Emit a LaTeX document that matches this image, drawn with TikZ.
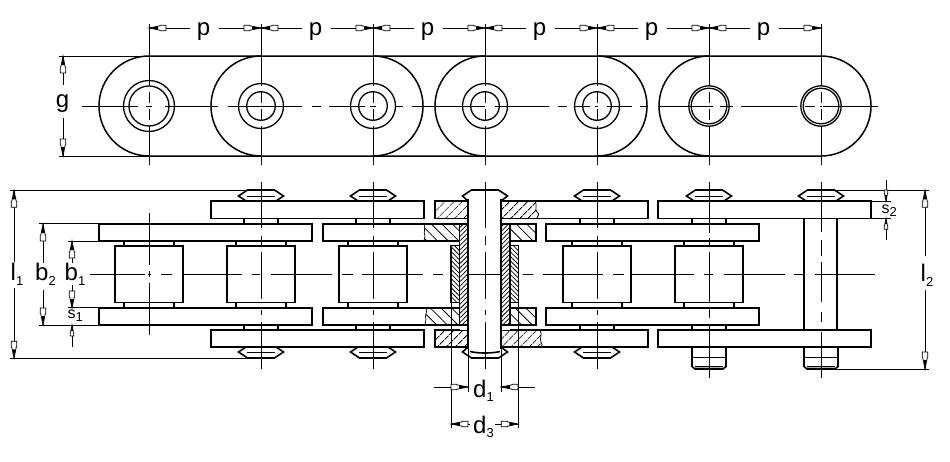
\documentclass[tikz,border=0pt]{standalone}
\usepackage{fontspec}
\setmainfont{Liberation Sans}
\usetikzlibrary{patterns.meta}
\newcommand{\subt}[1]{\raisebox{-4.5pt}{\fontsize{13}{13}\selectfont #1}}
\newcommand{\subs}[1]{\raisebox{-3.5pt}{\fontsize{13}{13}\selectfont #1}}
\tikzset{
  x=1pt,y=-1pt,
  thickln/.style={line width=1.6pt,line join=miter},
  thinln/.style={line width=0.85pt},
  boxp/.style={thickln,fill=white},
  lbl/.style={font=\fontsize{24}{24}\selectfont,inner sep=0pt,anchor=base west},
  lblc/.style={font=\fontsize{24}{24}\selectfont,inner sep=0pt},
  lblsm/.style={font=\fontsize{16}{16}\selectfont,inner sep=0pt,anchor=base west},
  tipshape/.pic={\draw[line width=0.75pt,fill=white] (0,0)--(11,-2.2)--(11,-2.8)--(17,-2.8)--(17,2.8)--(11,2.8)--(11,2.2)--cycle;
                 \fill (0,0)--(9,-1.6)--(9,1.6)--cycle;},
  hatchA/.style={pattern={Lines[angle=45,distance=6.5pt,line width=.8pt]}},
  hatchB/.style={pattern={Lines[angle=-45,distance=7.5pt,line width=.8pt]}},
  hatchC/.style={pattern={Lines[angle=45,distance=3.2pt,line width=.75pt]}},
  hatchD/.style={pattern={Lines[angle=-45,distance=3.2pt,line width=.75pt]}},
}
\newcommand{\rivethead}[1]{%
  \draw[boxp] (#1-13.5,190)--(#1+13.5,190)--(#1+22.5,196)--(#1+15,201)--(#1-15,201)--(#1-22.5,196)--cycle;
  \draw[line width=1pt] (#1-14,196)--(#1+14,196);
  \draw[boxp] (#1-13.5,358)--(#1+13.5,358)--(#1+22.5,352)--(#1+15,347)--(#1-15,347)--(#1-22.5,352)--cycle;
  \draw[line width=1pt] (#1-14,352)--(#1+14,352);}
\begin{document}
\begin{tikzpicture}
\useasboundingbox (0,0) rectangle (950,461);
\fill[white] (0,0) rectangle (950,461);
% ===== top view =====
\draw[line width=1.5pt]
  (149,156) arc[start angle=90,end angle=270,radius=50]
  (149,56) -- (821,56) arc[start angle=-90,end angle=90,radius=50] -- (149,156);
\foreach \cx in {261,485,709}
  \draw[line width=1.5pt] (\cx,56) arc[start angle=270,end angle=90,radius=50];
\foreach \cx in {373,597}
  \draw[line width=1.5pt] (\cx,56) arc[start angle=-90,end angle=90,radius=50];
\draw[line width=1.3pt] (149,106) circle[radius=25.5] (149,106) circle[radius=20];
\foreach \cx in {261,373,485,597}
  \draw[line width=1.3pt] (\cx,106) circle[radius=22.5] (\cx,106) circle[radius=14.3];
\foreach \cx in {709,821}
  \draw[line width=1.3pt] (\cx,106) circle[radius=20.2] (\cx,106) circle[radius=17.8];
% top view centre lines
\foreach \ax/\bx in {82/138,146/152,165/218,228/302,312/321,329/365,370/376,396/403,412/485,495/549,558/567,575/590,595/598,607/632,640/648,658/713,720/733,741/797,805/815,820/822,823/878}
  \draw[thinln] (\ax,106)--(\bx,106);
\foreach \cx in {149,261,373,485,597,709,821}{
  \draw[thinln] (\cx,24)--(\cx,86) (\cx,92)--(\cx,103) (\cx,109)--(\cx,120) (\cx,126)--(\cx,165);
}
% p dimensions
\foreach \cx/\dx in {149/261,261/373,373/485,485/597,597/709,709/821}{
  \draw[thinln] (\cx,28)--(\cx+41,28) (\cx+70,28)--(\dx,28);
  \pic at (\cx,28) {tipshape};
  \pic[rotate=180] at (\dx,28) {tipshape};
  \node[lblc] at (\cx+54.5,32) {p};
}
% g
\draw[thinln] (59,56)--(149,56);
\draw[thinln] (59,156.5)--(149,156.5);
\draw[thinln] (63,56)--(63,85) (63,118)--(63,156);
\pic[rotate=-90] at (63,56) {tipshape};
\pic[rotate=90] at (63,156) {tipshape};
\node[lblc] at (62.5,104) {g};
% ===== side view =====
% extension lines
\draw[thinln] (10,190.3)--(248,190.3);
\draw[thinln] (10,358.3)--(248,358.3);
\draw[thinln] (39,223.7)--(99,223.7) (39,325)--(99,325);
\draw[thinln] (68,241)--(99,241) (68,307.7)--(99,307.7);
% spacer bushes
\foreach \cx in {149,261,373,597,709}{
  \draw[thickln,line width=1.2pt] (\cx-25,241)--(\cx-25,245.7) (\cx+25,241)--(\cx+25,245.7)
     (\cx-25,302.3)--(\cx-25,307.7) (\cx+25,302.3)--(\cx+25,307.7);
}
\foreach \cx in {261,373,597,709}{
  \draw[thickln,line width=1.2pt] (\cx-17,218)--(\cx-17,224) (\cx+17,218)--(\cx+17,224)
     (\cx-17,325)--(\cx-17,330) (\cx+17,325)--(\cx+17,330);
}
% rollers
\foreach \cx in {149,261,373,597,709}
  \draw[boxp] (\cx-34,245.7) rectangle (\cx+34,302.3);
% inner plates
\foreach \ax in {99,323,546}{
  \draw[boxp] (\ax,223.7) rectangle (\ax+213,241);
  \draw[boxp] (\ax,307.7) rectangle (\ax+213,325);
}
% outer plates
\foreach \ax in {211,435,658}{
  \draw[boxp] (\ax,201) rectangle (\ax+213,218.3);
  \draw[boxp] (\ax,330) rectangle (\ax+213,347);
}
% rivet heads
\foreach \cx in {261,373,597}{\rivethead{\cx}}
% end pin at 709 and 821
\foreach \cx in {709,821}{
  \draw[boxp] (\cx-22.5,196)--(\cx-13.5,190)--(\cx+13.5,190)--(\cx+22.5,196)--(\cx+15,201)--(\cx-15,201)--cycle;
  \draw[line width=1pt] (\cx-14,196)--(\cx+14,196);
  \fill[gray!60] (\cx-14,366.5) rectangle (\cx+14,369);
  \draw[thickln] (\cx-17,347.5)--(\cx-17,366.5)--(\cx-14,369)--(\cx+14,369)--(\cx+17,366.5)--(\cx+17,347.5);
  \draw[thinln] (\cx-17,357.7)--(\cx+17,357.7) (\cx-14,366.5)--(\cx+14,366.5);
}
\draw[thickln] (804,218.3)--(804,330) (837,218.3)--(837,330);
% ===== section at 485 =====
\path[hatchA] (435,201)--(468,201)--(468,218)--(435,218)--cycle;
\path[hatchA] (501,201)--(535,201) .. controls (538,206) and (534,209) .. (537,212) .. controls (540,214) and (538,216) .. (537,218) -- (501,218)--cycle;
\draw[line width=.7pt] (535,201) .. controls (538,206) and (534,209) .. (537,212) .. controls (540,214) and (538,216) .. (537,218);
\path[hatchA] (435,330)--(468,330)--(468,347)--(435,347)--cycle;
\path[hatchA] (501,330)--(540,330) .. controls (543,335) and (539,339) .. (541,342) .. controls (543,344) and (542,346) .. (541,347)--(501,347)--cycle;
\draw[line width=.7pt] (540,330) .. controls (543,335) and (539,339) .. (541,342) .. controls (543,344) and (542,346) .. (541,347);
\draw[thickln] (435,201) rectangle (648,218.3);
\draw[thickln] (435,330) rectangle (648,347);
% inner plate sections
\path[hatchB] (424,224) .. controls (426,228) and (423,232) .. (425,236) -- (424,241)--(459,241)--(459,224)--cycle;
\draw[line width=.7pt] (424,224) .. controls (426,228) and (423,232) .. (425,236) -- (424,241);
\path[hatchB] (510,224)--(535,224)--(535,241)--(510,241)--cycle;
\path[hatchB] (426,308) .. controls (428,312) and (424,316) .. (426,319) -- (425,325)--(459,325)--(459,308)--cycle;
\draw[line width=.7pt] (426,308) .. controls (428,312) and (424,316) .. (426,319) -- (425,325);
\path[hatchB] (510,308)--(535,308)--(535,325)--(510,325)--cycle;
\draw[thickln] (323,223.7) rectangle (536,241);
\draw[thickln] (323,307.7) rectangle (536,325);
% roller section
\fill[white] (451,245.7) rectangle (459.5,302.3);
\fill[white] (510,245.7) rectangle (518.3,302.3);
\path[hatchD] (451,245.7) rectangle (459.5,302.3);
\path[hatchD] (510,245.7) rectangle (518.3,302.3);
\draw[thickln,line width=1.2pt] (451,245.7) rectangle (459.5,302.3);
\draw[thickln,line width=1.2pt] (510,245.7) rectangle (518.3,302.3);
% bushing section
\fill[white] (459.5,219) rectangle (468,330);
\fill[white] (501,219) rectangle (510,330);
\path[hatchC] (459.5,224) rectangle (468,325);
\path[hatchC] (501,224) rectangle (510,325);
\draw[thickln] (459.5,224) -- (459.5,325) (510,224) -- (510,325);
\draw[thickln] (459.5,224)--(468,224) (501,224)--(510,224) (459.5,325)--(468,325) (501,325)--(510,325);
% section head & pin
\draw[boxp] (471.5,190)--(498.5,190)--(507.5,196)--(501,201)--(468,201)--(462.5,196)--cycle;
\draw[boxp] (471.5,358)--(498.5,358)--(507.5,352)--(501,347)--(468,347)--(462.5,352)--cycle;
\draw[thickln] (470,351.5) .. controls (478,353.5) and (492,353.5) .. (500,351.5);
\fill[white] (468.5,199) rectangle (500.5,349);
\draw[thickln] (468,199)--(468,349) (501,199)--(501,349);
% ===== centre lines side view =====
\foreach \ax/\bx in {90/145,148/151,161/172,182/242,252/260,271/332,342/353,362/423,433/443,468/501,523/533,543/603,613/624,632/694,704/713,724/785,794/804,815/875}
  \draw[thinln] (\ax,274.3)--(\bx,274.3);
\draw[thinln] (149,213)--(149,265) (149,271)--(149,277) (149,283)--(149,335);
\foreach \cx in {261,373,485,597}{
  \draw[thinln] (\cx,182)--(\cx,228) (\cx,236)--(\cx,245) (\cx,252)--(\cx,299) (\cx,310)--(\cx,315) (\cx,322)--(\cx,369);
}
\draw[thinln] (709,182)--(709,233) (709,238)--(709,245) (709,252)--(709,303) (709,308)--(709,318) (709,325)--(709,378);
\draw[thinln] (821,182)--(821,232) (821,240)--(821,256) (821,262)--(821,302) (821,312)--(821,322) (821,332)--(821,378);
% l1
\draw[thinln] (14,190.3)--(14,262) (14,288)--(14,358.3);
\pic[rotate=-90] at (14,190.3) {tipshape};
\pic[rotate=90] at (14,358.3) {tipshape};
\node[lbl] at (10.5,280.5) {l\subt{1}};
% b2
\draw[thinln] (43,224)--(43,263) (43,290)--(43,325);
\pic[rotate=-90] at (43,224) {tipshape};
\pic[rotate=90] at (43,325) {tipshape};
\node[lbl] at (35,280.5) {b\subt{2}};
% b1
\draw[thinln] (72,241)--(72,263) (72,285)--(72,308);
\pic[rotate=-90] at (72,241) {tipshape};
\pic[rotate=90] at (72,308) {tipshape};
\node[lbl] at (64.5,280.5) {b\subt{1}};
% s1
\draw[thinln] (72,325)--(72,347);
\pic[rotate=-90,scale=0.65] at (72,325) {tipshape};
\node[lblsm] at (67.5,318) {s\subs{1}};
% l2
\draw[thinln] (837,190.3)--(929,190.3) (835,369)--(929,369);
\draw[thinln] (925,190.3)--(925,256) (925,290)--(925,369);
\pic[rotate=-90] at (925,190.3) {tipshape};
\pic[rotate=90] at (925,369) {tipshape};
\node[lbl] at (920.5,281.5) {l\subt{2}};
% s2
\draw[thinln] (871,201)--(891,201) (871,218.3)--(891,218.3);
\draw[thinln] (886,180)--(886,201) (886,218)--(886,240);
\pic[rotate=90,scale=0.65] at (886,201) {tipshape};
\pic[rotate=-90,scale=0.65] at (886,218.3) {tipshape};
\node[lblsm] at (881.5,213) {s\subs{2}};
% d1
\draw[thinln] (468,349)--(468,392) (501,349)--(501,392);
\draw[thinln] (451,302)--(451,428) (518.3,302)--(518.3,428);
\draw[thinln] (434,387)--(468,387) (501,387)--(535,387);
\pic[rotate=180] at (468,387) {tipshape};
\pic at (501,387) {tipshape};
\node[lbl] at (473,397) {d\subt{1}};
% d3
\draw[thinln] (451,424)--(470,424) (495,424)--(518.3,424);
\pic at (451,424) {tipshape};
\pic[rotate=180] at (518.3,424) {tipshape};
\node[lbl] at (473,433) {d\subt{3}};
\end{tikzpicture}
\end{document}
